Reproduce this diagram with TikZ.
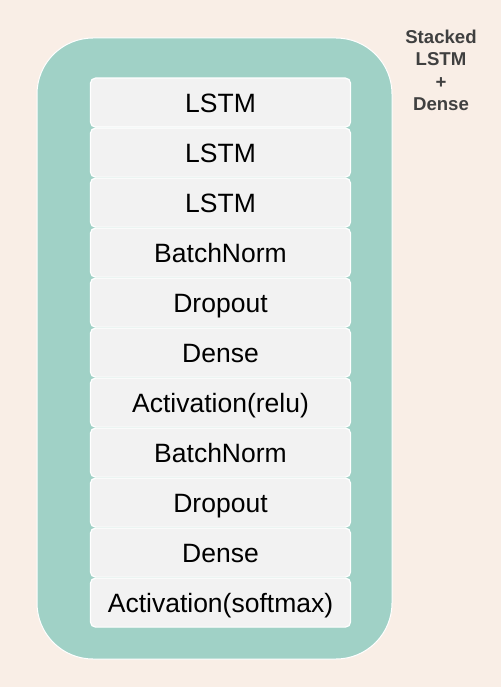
\documentclass[tikz,border=0pt]{standalone}
\usepackage{fontspec}
\setmainfont{Liberation Sans}
\definecolor{bgpeach}{HTML}{F9EEE6}
\definecolor{panelteal}{HTML}{A0D1C6}
\definecolor{layerfill}{HTML}{F2F2F2}
\definecolor{labelgray}{HTML}{404040}
\begin{document}
\begin{tikzpicture}[x=1pt,y=-1pt,
  layerbox/.style={draw=white, line width=1.2pt, fill=layerfill, rounded corners=5pt,
    minimum width=260pt, minimum height=49pt, inner sep=0pt, anchor=north,
    text height=19pt, text depth=0pt,
    font=\fontsize{26.5}{30}\selectfont, text=black},
  panel/.style={draw=white, line width=1pt, fill=panelteal, rounded corners=56pt},
  caption/.style={font=\fontsize{18.6}{22.6}\selectfont\bfseries, text=labelgray, align=center}
]
  % page background
  \fill[bgpeach] (0,0) rectangle (501,687);
  \useasboundingbox (0,0) rectangle (501,687);

  % teal container
  \draw[panel] (37,38) rectangle (392,659);

  % layer stack
  \foreach \txt [count=\i from 0] in {LSTM,LSTM,LSTM,BatchNorm,Dropout,Dense,Activation(relu),BatchNorm,Dropout,Dense,Activation(softmax)} {
    \node[layerbox] (layer\i) at (220.5,{77.5+50*\i}) {\txt};
  }

  % side caption
  \node[caption, anchor=north] (title) at (441,26) {Stacked\\LSTM\\+\\Dense};
\end{tikzpicture}
\end{document}
